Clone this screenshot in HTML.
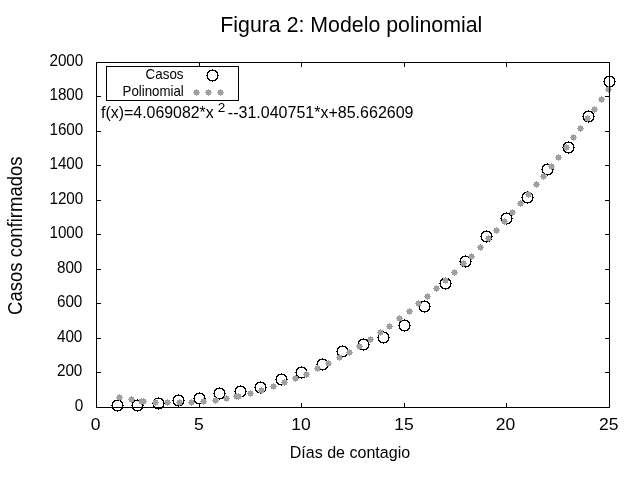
<!DOCTYPE html>
<html><head><meta charset="utf-8"><style>
html,body{margin:0;padding:0;background:#fff;width:640px;height:480px;overflow:hidden}
svg{position:absolute;left:0;top:0}
text{font-family:"Liberation Sans",sans-serif;fill:#000;stroke:none}
svg{will-change:transform}
</style></head><body>
<svg width="640" height="480" viewBox="0 0 640 480">
<rect width="640" height="480" fill="#fff"/>
<text transform="translate(220.29,32.00) scale(0.9923,1)" font-size="21.5">Figura 2: Modelo polinomial</text>
<text transform="translate(74.75,410.80) scale(0.9550,1)" font-size="16">0</text><text transform="translate(56.89,375.80) scale(0.9550,1)" font-size="16">200</text><text transform="translate(56.89,341.80) scale(0.9550,1)" font-size="16">400</text><text transform="translate(56.89,306.80) scale(0.9550,1)" font-size="16">600</text><text transform="translate(56.89,272.80) scale(0.9550,1)" font-size="16">800</text><text transform="translate(49.39,237.80) scale(0.9550,1)" font-size="16">1000</text><text transform="translate(49.39,203.80) scale(0.9550,1)" font-size="16">1200</text><text transform="translate(49.39,168.80) scale(0.9550,1)" font-size="16">1400</text><text transform="translate(49.39,134.80) scale(0.9550,1)" font-size="16">1600</text><text transform="translate(49.39,99.80) scale(0.9550,1)" font-size="16">1800</text><text transform="translate(49.39,65.80) scale(0.9550,1)" font-size="16">2000</text>
<text transform="translate(90.70,429.75) scale(1.0300,1)" font-size="17">0</text><text transform="translate(194.08,429.75) scale(1.0300,1)" font-size="17">5</text><text transform="translate(291.28,429.75) scale(1.0300,1)" font-size="17">10</text><text transform="translate(394.33,429.75) scale(1.0300,1)" font-size="17">15</text><text transform="translate(495.79,429.75) scale(1.0300,1)" font-size="17">20</text><text transform="translate(598.94,429.75) scale(1.0300,1)" font-size="17">25</text>
<text transform="translate(289.72,458.00) scale(0.9731,1)" font-size="16.5">Días de contagio</text>
<text transform="translate(22,314) rotate(-90) scale(0.9268,1)" x="-1.00" font-size="20">Casos confirmados</text>
<text transform="translate(145.58,79.00) scale(0.9571,1)" font-size="14">Casos</text><text transform="translate(122.54,95.80) scale(0.9492,1)" font-size="14">Polinomial</text>
<text transform="translate(101.09,118.00) scale(0.9636,1)" font-size="16.5">f(x)=4.069082*x</text><text transform="translate(217.82,111.75) scale(1.0064,1)" font-size="13.5">2</text><text transform="translate(227.86,118.00) scale(0.9715,1)" font-size="16.5">--31.040751*x+85.662609</text>
<g shape-rendering="crispEdges" fill="#000"><path transform="translate(117,405)" d="M-6 0h1v1h-1zM-5 -3h1v1h-1zM-5 -2h1v1h-1zM-5 -1h1v1h-1zM-5 0h1v1h-1zM-5 1h1v1h-1zM-5 2h1v1h-1zM-5 3h1v1h-1zM-4 -4h1v1h-1zM-4 -3h1v1h-1zM-4 3h1v1h-1zM-4 4h1v1h-1zM-3 -5h1v1h-1zM-3 -4h1v1h-1zM-3 4h1v1h-1zM-3 5h1v1h-1zM-2 -5h1v1h-1zM-2 5h1v1h-1zM-1 -5h1v1h-1zM-1 5h1v1h-1zM0 -6h1v1h-1zM0 -5h1v1h-1zM0 5h1v1h-1zM0 6h1v1h-1zM1 -5h1v1h-1zM1 5h1v1h-1zM2 -5h1v1h-1zM2 5h1v1h-1zM3 -5h1v1h-1zM3 -4h1v1h-1zM3 4h1v1h-1zM3 5h1v1h-1zM4 -4h1v1h-1zM4 -3h1v1h-1zM4 3h1v1h-1zM4 4h1v1h-1zM5 -3h1v1h-1zM5 -2h1v1h-1zM5 -1h1v1h-1zM5 0h1v1h-1zM5 1h1v1h-1zM5 2h1v1h-1zM5 3h1v1h-1zM6 0h1v1h-1z"/><path transform="translate(137,405)" d="M-6 0h1v1h-1zM-5 -3h1v1h-1zM-5 -2h1v1h-1zM-5 -1h1v1h-1zM-5 0h1v1h-1zM-5 1h1v1h-1zM-5 2h1v1h-1zM-5 3h1v1h-1zM-4 -4h1v1h-1zM-4 -3h1v1h-1zM-4 3h1v1h-1zM-4 4h1v1h-1zM-3 -5h1v1h-1zM-3 -4h1v1h-1zM-3 4h1v1h-1zM-3 5h1v1h-1zM-2 -5h1v1h-1zM-2 5h1v1h-1zM-1 -5h1v1h-1zM-1 5h1v1h-1zM0 -6h1v1h-1zM0 -5h1v1h-1zM0 5h1v1h-1zM0 6h1v1h-1zM1 -5h1v1h-1zM1 5h1v1h-1zM2 -5h1v1h-1zM2 5h1v1h-1zM3 -5h1v1h-1zM3 -4h1v1h-1zM3 4h1v1h-1zM3 5h1v1h-1zM4 -4h1v1h-1zM4 -3h1v1h-1zM4 3h1v1h-1zM4 4h1v1h-1zM5 -3h1v1h-1zM5 -2h1v1h-1zM5 -1h1v1h-1zM5 0h1v1h-1zM5 1h1v1h-1zM5 2h1v1h-1zM5 3h1v1h-1zM6 0h1v1h-1z"/><path transform="translate(158,403)" d="M-6 0h1v1h-1zM-5 -3h1v1h-1zM-5 -2h1v1h-1zM-5 -1h1v1h-1zM-5 0h1v1h-1zM-5 1h1v1h-1zM-5 2h1v1h-1zM-5 3h1v1h-1zM-4 -4h1v1h-1zM-4 -3h1v1h-1zM-4 3h1v1h-1zM-4 4h1v1h-1zM-3 -5h1v1h-1zM-3 -4h1v1h-1zM-3 4h1v1h-1zM-3 5h1v1h-1zM-2 -5h1v1h-1zM-2 5h1v1h-1zM-1 -5h1v1h-1zM-1 5h1v1h-1zM0 -6h1v1h-1zM0 -5h1v1h-1zM0 5h1v1h-1zM0 6h1v1h-1zM1 -5h1v1h-1zM1 5h1v1h-1zM2 -5h1v1h-1zM2 5h1v1h-1zM3 -5h1v1h-1zM3 -4h1v1h-1zM3 4h1v1h-1zM3 5h1v1h-1zM4 -4h1v1h-1zM4 -3h1v1h-1zM4 3h1v1h-1zM4 4h1v1h-1zM5 -3h1v1h-1zM5 -2h1v1h-1zM5 -1h1v1h-1zM5 0h1v1h-1zM5 1h1v1h-1zM5 2h1v1h-1zM5 3h1v1h-1zM6 0h1v1h-1z"/><path transform="translate(178,400)" d="M-6 0h1v1h-1zM-5 -3h1v1h-1zM-5 -2h1v1h-1zM-5 -1h1v1h-1zM-5 0h1v1h-1zM-5 1h1v1h-1zM-5 2h1v1h-1zM-5 3h1v1h-1zM-4 -4h1v1h-1zM-4 -3h1v1h-1zM-4 3h1v1h-1zM-4 4h1v1h-1zM-3 -5h1v1h-1zM-3 -4h1v1h-1zM-3 4h1v1h-1zM-3 5h1v1h-1zM-2 -5h1v1h-1zM-2 5h1v1h-1zM-1 -5h1v1h-1zM-1 5h1v1h-1zM0 -6h1v1h-1zM0 -5h1v1h-1zM0 5h1v1h-1zM0 6h1v1h-1zM1 -5h1v1h-1zM1 5h1v1h-1zM2 -5h1v1h-1zM2 5h1v1h-1zM3 -5h1v1h-1zM3 -4h1v1h-1zM3 4h1v1h-1zM3 5h1v1h-1zM4 -4h1v1h-1zM4 -3h1v1h-1zM4 3h1v1h-1zM4 4h1v1h-1zM5 -3h1v1h-1zM5 -2h1v1h-1zM5 -1h1v1h-1zM5 0h1v1h-1zM5 1h1v1h-1zM5 2h1v1h-1zM5 3h1v1h-1zM6 0h1v1h-1z"/><path transform="translate(199,398)" d="M-6 0h1v1h-1zM-5 -3h1v1h-1zM-5 -2h1v1h-1zM-5 -1h1v1h-1zM-5 0h1v1h-1zM-5 1h1v1h-1zM-5 2h1v1h-1zM-5 3h1v1h-1zM-4 -4h1v1h-1zM-4 -3h1v1h-1zM-4 3h1v1h-1zM-4 4h1v1h-1zM-3 -5h1v1h-1zM-3 -4h1v1h-1zM-3 4h1v1h-1zM-3 5h1v1h-1zM-2 -5h1v1h-1zM-2 5h1v1h-1zM-1 -5h1v1h-1zM-1 5h1v1h-1zM0 -6h1v1h-1zM0 -5h1v1h-1zM0 5h1v1h-1zM0 6h1v1h-1zM1 -5h1v1h-1zM1 5h1v1h-1zM2 -5h1v1h-1zM2 5h1v1h-1zM3 -5h1v1h-1zM3 -4h1v1h-1zM3 4h1v1h-1zM3 5h1v1h-1zM4 -4h1v1h-1zM4 -3h1v1h-1zM4 3h1v1h-1zM4 4h1v1h-1zM5 -3h1v1h-1zM5 -2h1v1h-1zM5 -1h1v1h-1zM5 0h1v1h-1zM5 1h1v1h-1zM5 2h1v1h-1zM5 3h1v1h-1zM6 0h1v1h-1z"/><path transform="translate(219,393)" d="M-6 0h1v1h-1zM-5 -3h1v1h-1zM-5 -2h1v1h-1zM-5 -1h1v1h-1zM-5 0h1v1h-1zM-5 1h1v1h-1zM-5 2h1v1h-1zM-5 3h1v1h-1zM-4 -4h1v1h-1zM-4 -3h1v1h-1zM-4 3h1v1h-1zM-4 4h1v1h-1zM-3 -5h1v1h-1zM-3 -4h1v1h-1zM-3 4h1v1h-1zM-3 5h1v1h-1zM-2 -5h1v1h-1zM-2 5h1v1h-1zM-1 -5h1v1h-1zM-1 5h1v1h-1zM0 -6h1v1h-1zM0 -5h1v1h-1zM0 5h1v1h-1zM0 6h1v1h-1zM1 -5h1v1h-1zM1 5h1v1h-1zM2 -5h1v1h-1zM2 5h1v1h-1zM3 -5h1v1h-1zM3 -4h1v1h-1zM3 4h1v1h-1zM3 5h1v1h-1zM4 -4h1v1h-1zM4 -3h1v1h-1zM4 3h1v1h-1zM4 4h1v1h-1zM5 -3h1v1h-1zM5 -2h1v1h-1zM5 -1h1v1h-1zM5 0h1v1h-1zM5 1h1v1h-1zM5 2h1v1h-1zM5 3h1v1h-1zM6 0h1v1h-1z"/><path transform="translate(240,391)" d="M-6 0h1v1h-1zM-5 -3h1v1h-1zM-5 -2h1v1h-1zM-5 -1h1v1h-1zM-5 0h1v1h-1zM-5 1h1v1h-1zM-5 2h1v1h-1zM-5 3h1v1h-1zM-4 -4h1v1h-1zM-4 -3h1v1h-1zM-4 3h1v1h-1zM-4 4h1v1h-1zM-3 -5h1v1h-1zM-3 -4h1v1h-1zM-3 4h1v1h-1zM-3 5h1v1h-1zM-2 -5h1v1h-1zM-2 5h1v1h-1zM-1 -5h1v1h-1zM-1 5h1v1h-1zM0 -6h1v1h-1zM0 -5h1v1h-1zM0 5h1v1h-1zM0 6h1v1h-1zM1 -5h1v1h-1zM1 5h1v1h-1zM2 -5h1v1h-1zM2 5h1v1h-1zM3 -5h1v1h-1zM3 -4h1v1h-1zM3 4h1v1h-1zM3 5h1v1h-1zM4 -4h1v1h-1zM4 -3h1v1h-1zM4 3h1v1h-1zM4 4h1v1h-1zM5 -3h1v1h-1zM5 -2h1v1h-1zM5 -1h1v1h-1zM5 0h1v1h-1zM5 1h1v1h-1zM5 2h1v1h-1zM5 3h1v1h-1zM6 0h1v1h-1z"/><path transform="translate(260,387)" d="M-6 0h1v1h-1zM-5 -3h1v1h-1zM-5 -2h1v1h-1zM-5 -1h1v1h-1zM-5 0h1v1h-1zM-5 1h1v1h-1zM-5 2h1v1h-1zM-5 3h1v1h-1zM-4 -4h1v1h-1zM-4 -3h1v1h-1zM-4 3h1v1h-1zM-4 4h1v1h-1zM-3 -5h1v1h-1zM-3 -4h1v1h-1zM-3 4h1v1h-1zM-3 5h1v1h-1zM-2 -5h1v1h-1zM-2 5h1v1h-1zM-1 -5h1v1h-1zM-1 5h1v1h-1zM0 -6h1v1h-1zM0 -5h1v1h-1zM0 5h1v1h-1zM0 6h1v1h-1zM1 -5h1v1h-1zM1 5h1v1h-1zM2 -5h1v1h-1zM2 5h1v1h-1zM3 -5h1v1h-1zM3 -4h1v1h-1zM3 4h1v1h-1zM3 5h1v1h-1zM4 -4h1v1h-1zM4 -3h1v1h-1zM4 3h1v1h-1zM4 4h1v1h-1zM5 -3h1v1h-1zM5 -2h1v1h-1zM5 -1h1v1h-1zM5 0h1v1h-1zM5 1h1v1h-1zM5 2h1v1h-1zM5 3h1v1h-1zM6 0h1v1h-1z"/><path transform="translate(281,379)" d="M-6 0h1v1h-1zM-5 -3h1v1h-1zM-5 -2h1v1h-1zM-5 -1h1v1h-1zM-5 0h1v1h-1zM-5 1h1v1h-1zM-5 2h1v1h-1zM-5 3h1v1h-1zM-4 -4h1v1h-1zM-4 -3h1v1h-1zM-4 3h1v1h-1zM-4 4h1v1h-1zM-3 -5h1v1h-1zM-3 -4h1v1h-1zM-3 4h1v1h-1zM-3 5h1v1h-1zM-2 -5h1v1h-1zM-2 5h1v1h-1zM-1 -5h1v1h-1zM-1 5h1v1h-1zM0 -6h1v1h-1zM0 -5h1v1h-1zM0 5h1v1h-1zM0 6h1v1h-1zM1 -5h1v1h-1zM1 5h1v1h-1zM2 -5h1v1h-1zM2 5h1v1h-1zM3 -5h1v1h-1zM3 -4h1v1h-1zM3 4h1v1h-1zM3 5h1v1h-1zM4 -4h1v1h-1zM4 -3h1v1h-1zM4 3h1v1h-1zM4 4h1v1h-1zM5 -3h1v1h-1zM5 -2h1v1h-1zM5 -1h1v1h-1zM5 0h1v1h-1zM5 1h1v1h-1zM5 2h1v1h-1zM5 3h1v1h-1zM6 0h1v1h-1z"/><path transform="translate(301,372)" d="M-6 0h1v1h-1zM-5 -3h1v1h-1zM-5 -2h1v1h-1zM-5 -1h1v1h-1zM-5 0h1v1h-1zM-5 1h1v1h-1zM-5 2h1v1h-1zM-5 3h1v1h-1zM-4 -4h1v1h-1zM-4 -3h1v1h-1zM-4 3h1v1h-1zM-4 4h1v1h-1zM-3 -5h1v1h-1zM-3 -4h1v1h-1zM-3 4h1v1h-1zM-3 5h1v1h-1zM-2 -5h1v1h-1zM-2 5h1v1h-1zM-1 -5h1v1h-1zM-1 5h1v1h-1zM0 -6h1v1h-1zM0 -5h1v1h-1zM0 5h1v1h-1zM0 6h1v1h-1zM1 -5h1v1h-1zM1 5h1v1h-1zM2 -5h1v1h-1zM2 5h1v1h-1zM3 -5h1v1h-1zM3 -4h1v1h-1zM3 4h1v1h-1zM3 5h1v1h-1zM4 -4h1v1h-1zM4 -3h1v1h-1zM4 3h1v1h-1zM4 4h1v1h-1zM5 -3h1v1h-1zM5 -2h1v1h-1zM5 -1h1v1h-1zM5 0h1v1h-1zM5 1h1v1h-1zM5 2h1v1h-1zM5 3h1v1h-1zM6 0h1v1h-1z"/><path transform="translate(322,364)" d="M-6 0h1v1h-1zM-5 -3h1v1h-1zM-5 -2h1v1h-1zM-5 -1h1v1h-1zM-5 0h1v1h-1zM-5 1h1v1h-1zM-5 2h1v1h-1zM-5 3h1v1h-1zM-4 -4h1v1h-1zM-4 -3h1v1h-1zM-4 3h1v1h-1zM-4 4h1v1h-1zM-3 -5h1v1h-1zM-3 -4h1v1h-1zM-3 4h1v1h-1zM-3 5h1v1h-1zM-2 -5h1v1h-1zM-2 5h1v1h-1zM-1 -5h1v1h-1zM-1 5h1v1h-1zM0 -6h1v1h-1zM0 -5h1v1h-1zM0 5h1v1h-1zM0 6h1v1h-1zM1 -5h1v1h-1zM1 5h1v1h-1zM2 -5h1v1h-1zM2 5h1v1h-1zM3 -5h1v1h-1zM3 -4h1v1h-1zM3 4h1v1h-1zM3 5h1v1h-1zM4 -4h1v1h-1zM4 -3h1v1h-1zM4 3h1v1h-1zM4 4h1v1h-1zM5 -3h1v1h-1zM5 -2h1v1h-1zM5 -1h1v1h-1zM5 0h1v1h-1zM5 1h1v1h-1zM5 2h1v1h-1zM5 3h1v1h-1zM6 0h1v1h-1z"/><path transform="translate(342,351)" d="M-6 0h1v1h-1zM-5 -3h1v1h-1zM-5 -2h1v1h-1zM-5 -1h1v1h-1zM-5 0h1v1h-1zM-5 1h1v1h-1zM-5 2h1v1h-1zM-5 3h1v1h-1zM-4 -4h1v1h-1zM-4 -3h1v1h-1zM-4 3h1v1h-1zM-4 4h1v1h-1zM-3 -5h1v1h-1zM-3 -4h1v1h-1zM-3 4h1v1h-1zM-3 5h1v1h-1zM-2 -5h1v1h-1zM-2 5h1v1h-1zM-1 -5h1v1h-1zM-1 5h1v1h-1zM0 -6h1v1h-1zM0 -5h1v1h-1zM0 5h1v1h-1zM0 6h1v1h-1zM1 -5h1v1h-1zM1 5h1v1h-1zM2 -5h1v1h-1zM2 5h1v1h-1zM3 -5h1v1h-1zM3 -4h1v1h-1zM3 4h1v1h-1zM3 5h1v1h-1zM4 -4h1v1h-1zM4 -3h1v1h-1zM4 3h1v1h-1zM4 4h1v1h-1zM5 -3h1v1h-1zM5 -2h1v1h-1zM5 -1h1v1h-1zM5 0h1v1h-1zM5 1h1v1h-1zM5 2h1v1h-1zM5 3h1v1h-1zM6 0h1v1h-1z"/><path transform="translate(363,344)" d="M-6 0h1v1h-1zM-5 -3h1v1h-1zM-5 -2h1v1h-1zM-5 -1h1v1h-1zM-5 0h1v1h-1zM-5 1h1v1h-1zM-5 2h1v1h-1zM-5 3h1v1h-1zM-4 -4h1v1h-1zM-4 -3h1v1h-1zM-4 3h1v1h-1zM-4 4h1v1h-1zM-3 -5h1v1h-1zM-3 -4h1v1h-1zM-3 4h1v1h-1zM-3 5h1v1h-1zM-2 -5h1v1h-1zM-2 5h1v1h-1zM-1 -5h1v1h-1zM-1 5h1v1h-1zM0 -6h1v1h-1zM0 -5h1v1h-1zM0 5h1v1h-1zM0 6h1v1h-1zM1 -5h1v1h-1zM1 5h1v1h-1zM2 -5h1v1h-1zM2 5h1v1h-1zM3 -5h1v1h-1zM3 -4h1v1h-1zM3 4h1v1h-1zM3 5h1v1h-1zM4 -4h1v1h-1zM4 -3h1v1h-1zM4 3h1v1h-1zM4 4h1v1h-1zM5 -3h1v1h-1zM5 -2h1v1h-1zM5 -1h1v1h-1zM5 0h1v1h-1zM5 1h1v1h-1zM5 2h1v1h-1zM5 3h1v1h-1zM6 0h1v1h-1z"/><path transform="translate(383,337)" d="M-6 0h1v1h-1zM-5 -3h1v1h-1zM-5 -2h1v1h-1zM-5 -1h1v1h-1zM-5 0h1v1h-1zM-5 1h1v1h-1zM-5 2h1v1h-1zM-5 3h1v1h-1zM-4 -4h1v1h-1zM-4 -3h1v1h-1zM-4 3h1v1h-1zM-4 4h1v1h-1zM-3 -5h1v1h-1zM-3 -4h1v1h-1zM-3 4h1v1h-1zM-3 5h1v1h-1zM-2 -5h1v1h-1zM-2 5h1v1h-1zM-1 -5h1v1h-1zM-1 5h1v1h-1zM0 -6h1v1h-1zM0 -5h1v1h-1zM0 5h1v1h-1zM0 6h1v1h-1zM1 -5h1v1h-1zM1 5h1v1h-1zM2 -5h1v1h-1zM2 5h1v1h-1zM3 -5h1v1h-1zM3 -4h1v1h-1zM3 4h1v1h-1zM3 5h1v1h-1zM4 -4h1v1h-1zM4 -3h1v1h-1zM4 3h1v1h-1zM4 4h1v1h-1zM5 -3h1v1h-1zM5 -2h1v1h-1zM5 -1h1v1h-1zM5 0h1v1h-1zM5 1h1v1h-1zM5 2h1v1h-1zM5 3h1v1h-1zM6 0h1v1h-1z"/><path transform="translate(404,325)" d="M-6 0h1v1h-1zM-5 -3h1v1h-1zM-5 -2h1v1h-1zM-5 -1h1v1h-1zM-5 0h1v1h-1zM-5 1h1v1h-1zM-5 2h1v1h-1zM-5 3h1v1h-1zM-4 -4h1v1h-1zM-4 -3h1v1h-1zM-4 3h1v1h-1zM-4 4h1v1h-1zM-3 -5h1v1h-1zM-3 -4h1v1h-1zM-3 4h1v1h-1zM-3 5h1v1h-1zM-2 -5h1v1h-1zM-2 5h1v1h-1zM-1 -5h1v1h-1zM-1 5h1v1h-1zM0 -6h1v1h-1zM0 -5h1v1h-1zM0 5h1v1h-1zM0 6h1v1h-1zM1 -5h1v1h-1zM1 5h1v1h-1zM2 -5h1v1h-1zM2 5h1v1h-1zM3 -5h1v1h-1zM3 -4h1v1h-1zM3 4h1v1h-1zM3 5h1v1h-1zM4 -4h1v1h-1zM4 -3h1v1h-1zM4 3h1v1h-1zM4 4h1v1h-1zM5 -3h1v1h-1zM5 -2h1v1h-1zM5 -1h1v1h-1zM5 0h1v1h-1zM5 1h1v1h-1zM5 2h1v1h-1zM5 3h1v1h-1zM6 0h1v1h-1z"/><path transform="translate(424,306)" d="M-6 0h1v1h-1zM-5 -3h1v1h-1zM-5 -2h1v1h-1zM-5 -1h1v1h-1zM-5 0h1v1h-1zM-5 1h1v1h-1zM-5 2h1v1h-1zM-5 3h1v1h-1zM-4 -4h1v1h-1zM-4 -3h1v1h-1zM-4 3h1v1h-1zM-4 4h1v1h-1zM-3 -5h1v1h-1zM-3 -4h1v1h-1zM-3 4h1v1h-1zM-3 5h1v1h-1zM-2 -5h1v1h-1zM-2 5h1v1h-1zM-1 -5h1v1h-1zM-1 5h1v1h-1zM0 -6h1v1h-1zM0 -5h1v1h-1zM0 5h1v1h-1zM0 6h1v1h-1zM1 -5h1v1h-1zM1 5h1v1h-1zM2 -5h1v1h-1zM2 5h1v1h-1zM3 -5h1v1h-1zM3 -4h1v1h-1zM3 4h1v1h-1zM3 5h1v1h-1zM4 -4h1v1h-1zM4 -3h1v1h-1zM4 3h1v1h-1zM4 4h1v1h-1zM5 -3h1v1h-1zM5 -2h1v1h-1zM5 -1h1v1h-1zM5 0h1v1h-1zM5 1h1v1h-1zM5 2h1v1h-1zM5 3h1v1h-1zM6 0h1v1h-1z"/><path transform="translate(445,283)" d="M-6 0h1v1h-1zM-5 -3h1v1h-1zM-5 -2h1v1h-1zM-5 -1h1v1h-1zM-5 0h1v1h-1zM-5 1h1v1h-1zM-5 2h1v1h-1zM-5 3h1v1h-1zM-4 -4h1v1h-1zM-4 -3h1v1h-1zM-4 3h1v1h-1zM-4 4h1v1h-1zM-3 -5h1v1h-1zM-3 -4h1v1h-1zM-3 4h1v1h-1zM-3 5h1v1h-1zM-2 -5h1v1h-1zM-2 5h1v1h-1zM-1 -5h1v1h-1zM-1 5h1v1h-1zM0 -6h1v1h-1zM0 -5h1v1h-1zM0 5h1v1h-1zM0 6h1v1h-1zM1 -5h1v1h-1zM1 5h1v1h-1zM2 -5h1v1h-1zM2 5h1v1h-1zM3 -5h1v1h-1zM3 -4h1v1h-1zM3 4h1v1h-1zM3 5h1v1h-1zM4 -4h1v1h-1zM4 -3h1v1h-1zM4 3h1v1h-1zM4 4h1v1h-1zM5 -3h1v1h-1zM5 -2h1v1h-1zM5 -1h1v1h-1zM5 0h1v1h-1zM5 1h1v1h-1zM5 2h1v1h-1zM5 3h1v1h-1zM6 0h1v1h-1z"/><path transform="translate(465,261)" d="M-6 0h1v1h-1zM-5 -3h1v1h-1zM-5 -2h1v1h-1zM-5 -1h1v1h-1zM-5 0h1v1h-1zM-5 1h1v1h-1zM-5 2h1v1h-1zM-5 3h1v1h-1zM-4 -4h1v1h-1zM-4 -3h1v1h-1zM-4 3h1v1h-1zM-4 4h1v1h-1zM-3 -5h1v1h-1zM-3 -4h1v1h-1zM-3 4h1v1h-1zM-3 5h1v1h-1zM-2 -5h1v1h-1zM-2 5h1v1h-1zM-1 -5h1v1h-1zM-1 5h1v1h-1zM0 -6h1v1h-1zM0 -5h1v1h-1zM0 5h1v1h-1zM0 6h1v1h-1zM1 -5h1v1h-1zM1 5h1v1h-1zM2 -5h1v1h-1zM2 5h1v1h-1zM3 -5h1v1h-1zM3 -4h1v1h-1zM3 4h1v1h-1zM3 5h1v1h-1zM4 -4h1v1h-1zM4 -3h1v1h-1zM4 3h1v1h-1zM4 4h1v1h-1zM5 -3h1v1h-1zM5 -2h1v1h-1zM5 -1h1v1h-1zM5 0h1v1h-1zM5 1h1v1h-1zM5 2h1v1h-1zM5 3h1v1h-1zM6 0h1v1h-1z"/><path transform="translate(486,236)" d="M-6 0h1v1h-1zM-5 -3h1v1h-1zM-5 -2h1v1h-1zM-5 -1h1v1h-1zM-5 0h1v1h-1zM-5 1h1v1h-1zM-5 2h1v1h-1zM-5 3h1v1h-1zM-4 -4h1v1h-1zM-4 -3h1v1h-1zM-4 3h1v1h-1zM-4 4h1v1h-1zM-3 -5h1v1h-1zM-3 -4h1v1h-1zM-3 4h1v1h-1zM-3 5h1v1h-1zM-2 -5h1v1h-1zM-2 5h1v1h-1zM-1 -5h1v1h-1zM-1 5h1v1h-1zM0 -6h1v1h-1zM0 -5h1v1h-1zM0 5h1v1h-1zM0 6h1v1h-1zM1 -5h1v1h-1zM1 5h1v1h-1zM2 -5h1v1h-1zM2 5h1v1h-1zM3 -5h1v1h-1zM3 -4h1v1h-1zM3 4h1v1h-1zM3 5h1v1h-1zM4 -4h1v1h-1zM4 -3h1v1h-1zM4 3h1v1h-1zM4 4h1v1h-1zM5 -3h1v1h-1zM5 -2h1v1h-1zM5 -1h1v1h-1zM5 0h1v1h-1zM5 1h1v1h-1zM5 2h1v1h-1zM5 3h1v1h-1zM6 0h1v1h-1z"/><path transform="translate(506,218)" d="M-6 0h1v1h-1zM-5 -3h1v1h-1zM-5 -2h1v1h-1zM-5 -1h1v1h-1zM-5 0h1v1h-1zM-5 1h1v1h-1zM-5 2h1v1h-1zM-5 3h1v1h-1zM-4 -4h1v1h-1zM-4 -3h1v1h-1zM-4 3h1v1h-1zM-4 4h1v1h-1zM-3 -5h1v1h-1zM-3 -4h1v1h-1zM-3 4h1v1h-1zM-3 5h1v1h-1zM-2 -5h1v1h-1zM-2 5h1v1h-1zM-1 -5h1v1h-1zM-1 5h1v1h-1zM0 -6h1v1h-1zM0 -5h1v1h-1zM0 5h1v1h-1zM0 6h1v1h-1zM1 -5h1v1h-1zM1 5h1v1h-1zM2 -5h1v1h-1zM2 5h1v1h-1zM3 -5h1v1h-1zM3 -4h1v1h-1zM3 4h1v1h-1zM3 5h1v1h-1zM4 -4h1v1h-1zM4 -3h1v1h-1zM4 3h1v1h-1zM4 4h1v1h-1zM5 -3h1v1h-1zM5 -2h1v1h-1zM5 -1h1v1h-1zM5 0h1v1h-1zM5 1h1v1h-1zM5 2h1v1h-1zM5 3h1v1h-1zM6 0h1v1h-1z"/><path transform="translate(527,197)" d="M-6 0h1v1h-1zM-5 -3h1v1h-1zM-5 -2h1v1h-1zM-5 -1h1v1h-1zM-5 0h1v1h-1zM-5 1h1v1h-1zM-5 2h1v1h-1zM-5 3h1v1h-1zM-4 -4h1v1h-1zM-4 -3h1v1h-1zM-4 3h1v1h-1zM-4 4h1v1h-1zM-3 -5h1v1h-1zM-3 -4h1v1h-1zM-3 4h1v1h-1zM-3 5h1v1h-1zM-2 -5h1v1h-1zM-2 5h1v1h-1zM-1 -5h1v1h-1zM-1 5h1v1h-1zM0 -6h1v1h-1zM0 -5h1v1h-1zM0 5h1v1h-1zM0 6h1v1h-1zM1 -5h1v1h-1zM1 5h1v1h-1zM2 -5h1v1h-1zM2 5h1v1h-1zM3 -5h1v1h-1zM3 -4h1v1h-1zM3 4h1v1h-1zM3 5h1v1h-1zM4 -4h1v1h-1zM4 -3h1v1h-1zM4 3h1v1h-1zM4 4h1v1h-1zM5 -3h1v1h-1zM5 -2h1v1h-1zM5 -1h1v1h-1zM5 0h1v1h-1zM5 1h1v1h-1zM5 2h1v1h-1zM5 3h1v1h-1zM6 0h1v1h-1z"/><path transform="translate(547,169)" d="M-6 0h1v1h-1zM-5 -3h1v1h-1zM-5 -2h1v1h-1zM-5 -1h1v1h-1zM-5 0h1v1h-1zM-5 1h1v1h-1zM-5 2h1v1h-1zM-5 3h1v1h-1zM-4 -4h1v1h-1zM-4 -3h1v1h-1zM-4 3h1v1h-1zM-4 4h1v1h-1zM-3 -5h1v1h-1zM-3 -4h1v1h-1zM-3 4h1v1h-1zM-3 5h1v1h-1zM-2 -5h1v1h-1zM-2 5h1v1h-1zM-1 -5h1v1h-1zM-1 5h1v1h-1zM0 -6h1v1h-1zM0 -5h1v1h-1zM0 5h1v1h-1zM0 6h1v1h-1zM1 -5h1v1h-1zM1 5h1v1h-1zM2 -5h1v1h-1zM2 5h1v1h-1zM3 -5h1v1h-1zM3 -4h1v1h-1zM3 4h1v1h-1zM3 5h1v1h-1zM4 -4h1v1h-1zM4 -3h1v1h-1zM4 3h1v1h-1zM4 4h1v1h-1zM5 -3h1v1h-1zM5 -2h1v1h-1zM5 -1h1v1h-1zM5 0h1v1h-1zM5 1h1v1h-1zM5 2h1v1h-1zM5 3h1v1h-1zM6 0h1v1h-1z"/><path transform="translate(568,147)" d="M-6 0h1v1h-1zM-5 -3h1v1h-1zM-5 -2h1v1h-1zM-5 -1h1v1h-1zM-5 0h1v1h-1zM-5 1h1v1h-1zM-5 2h1v1h-1zM-5 3h1v1h-1zM-4 -4h1v1h-1zM-4 -3h1v1h-1zM-4 3h1v1h-1zM-4 4h1v1h-1zM-3 -5h1v1h-1zM-3 -4h1v1h-1zM-3 4h1v1h-1zM-3 5h1v1h-1zM-2 -5h1v1h-1zM-2 5h1v1h-1zM-1 -5h1v1h-1zM-1 5h1v1h-1zM0 -6h1v1h-1zM0 -5h1v1h-1zM0 5h1v1h-1zM0 6h1v1h-1zM1 -5h1v1h-1zM1 5h1v1h-1zM2 -5h1v1h-1zM2 5h1v1h-1zM3 -5h1v1h-1zM3 -4h1v1h-1zM3 4h1v1h-1zM3 5h1v1h-1zM4 -4h1v1h-1zM4 -3h1v1h-1zM4 3h1v1h-1zM4 4h1v1h-1zM5 -3h1v1h-1zM5 -2h1v1h-1zM5 -1h1v1h-1zM5 0h1v1h-1zM5 1h1v1h-1zM5 2h1v1h-1zM5 3h1v1h-1zM6 0h1v1h-1z"/><path transform="translate(588,116)" d="M-6 0h1v1h-1zM-5 -3h1v1h-1zM-5 -2h1v1h-1zM-5 -1h1v1h-1zM-5 0h1v1h-1zM-5 1h1v1h-1zM-5 2h1v1h-1zM-5 3h1v1h-1zM-4 -4h1v1h-1zM-4 -3h1v1h-1zM-4 3h1v1h-1zM-4 4h1v1h-1zM-3 -5h1v1h-1zM-3 -4h1v1h-1zM-3 4h1v1h-1zM-3 5h1v1h-1zM-2 -5h1v1h-1zM-2 5h1v1h-1zM-1 -5h1v1h-1zM-1 5h1v1h-1zM0 -6h1v1h-1zM0 -5h1v1h-1zM0 5h1v1h-1zM0 6h1v1h-1zM1 -5h1v1h-1zM1 5h1v1h-1zM2 -5h1v1h-1zM2 5h1v1h-1zM3 -5h1v1h-1zM3 -4h1v1h-1zM3 4h1v1h-1zM3 5h1v1h-1zM4 -4h1v1h-1zM4 -3h1v1h-1zM4 3h1v1h-1zM4 4h1v1h-1zM5 -3h1v1h-1zM5 -2h1v1h-1zM5 -1h1v1h-1zM5 0h1v1h-1zM5 1h1v1h-1zM5 2h1v1h-1zM5 3h1v1h-1zM6 0h1v1h-1z"/><path transform="translate(609,81)" d="M-6 0h1v1h-1zM-5 -3h1v1h-1zM-5 -2h1v1h-1zM-5 -1h1v1h-1zM-5 0h1v1h-1zM-5 1h1v1h-1zM-5 2h1v1h-1zM-5 3h1v1h-1zM-4 -4h1v1h-1zM-4 -3h1v1h-1zM-4 3h1v1h-1zM-4 4h1v1h-1zM-3 -5h1v1h-1zM-3 -4h1v1h-1zM-3 4h1v1h-1zM-3 5h1v1h-1zM-2 -5h1v1h-1zM-2 5h1v1h-1zM-1 -5h1v1h-1zM-1 5h1v1h-1zM0 -6h1v1h-1zM0 -5h1v1h-1zM0 5h1v1h-1zM0 6h1v1h-1zM1 -5h1v1h-1zM1 5h1v1h-1zM2 -5h1v1h-1zM2 5h1v1h-1zM3 -5h1v1h-1zM3 -4h1v1h-1zM3 4h1v1h-1zM3 5h1v1h-1zM4 -4h1v1h-1zM4 -3h1v1h-1zM4 3h1v1h-1zM4 4h1v1h-1zM5 -3h1v1h-1zM5 -2h1v1h-1zM5 -1h1v1h-1zM5 0h1v1h-1zM5 1h1v1h-1zM5 2h1v1h-1zM5 3h1v1h-1zM6 0h1v1h-1z"/><path transform="translate(212,75)" d="M-6 0h1v1h-1zM-5 -3h1v1h-1zM-5 -2h1v1h-1zM-5 -1h1v1h-1zM-5 0h1v1h-1zM-5 1h1v1h-1zM-5 2h1v1h-1zM-5 3h1v1h-1zM-4 -4h1v1h-1zM-4 -3h1v1h-1zM-4 3h1v1h-1zM-4 4h1v1h-1zM-3 -5h1v1h-1zM-3 -4h1v1h-1zM-3 4h1v1h-1zM-3 5h1v1h-1zM-2 -5h1v1h-1zM-2 5h1v1h-1zM-1 -5h1v1h-1zM-1 5h1v1h-1zM0 -6h1v1h-1zM0 -5h1v1h-1zM0 5h1v1h-1zM0 6h1v1h-1zM1 -5h1v1h-1zM1 5h1v1h-1zM2 -5h1v1h-1zM2 5h1v1h-1zM3 -5h1v1h-1zM3 -4h1v1h-1zM3 4h1v1h-1zM3 5h1v1h-1zM4 -4h1v1h-1zM4 -3h1v1h-1zM4 3h1v1h-1zM4 4h1v1h-1zM5 -3h1v1h-1zM5 -2h1v1h-1zM5 -1h1v1h-1zM5 0h1v1h-1zM5 1h1v1h-1zM5 2h1v1h-1zM5 3h1v1h-1zM6 0h1v1h-1z"/></g>
<g shape-rendering="crispEdges" fill="#a0a0a0"><path transform="translate(119,397)" d="M-2 -2h5v5h-5z M0 -3h1v7h-1z M-3 0h7v1h-7z"/><path transform="translate(131,399)" d="M-2 -2h5v5h-5z M0 -3h1v7h-1z M-3 0h7v1h-7z"/><path transform="translate(143,401)" d="M-2 -2h5v5h-5z M0 -3h1v7h-1z M-3 0h7v1h-7z"/><path transform="translate(155,402)" d="M-2 -2h5v5h-5z M0 -3h1v7h-1z M-3 0h7v1h-7z"/><path transform="translate(167,402)" d="M-2 -2h5v5h-5z M0 -3h1v7h-1z M-3 0h7v1h-7z"/><path transform="translate(179,402)" d="M-2 -2h5v5h-5z M0 -3h1v7h-1z M-3 0h7v1h-7z"/><path transform="translate(191,402)" d="M-2 -2h5v5h-5z M0 -3h1v7h-1z M-3 0h7v1h-7z"/><path transform="translate(203,401)" d="M-2 -2h5v5h-5z M0 -3h1v7h-1z M-3 0h7v1h-7z"/><path transform="translate(215,400)" d="M-2 -2h5v5h-5z M0 -3h1v7h-1z M-3 0h7v1h-7z"/><path transform="translate(226,398)" d="M-2 -2h5v5h-5z M0 -3h1v7h-1z M-3 0h7v1h-7z"/><path transform="translate(238,396)" d="M-2 -2h5v5h-5z M0 -3h1v7h-1z M-3 0h7v1h-7z"/><path transform="translate(250,393)" d="M-2 -2h5v5h-5z M0 -3h1v7h-1z M-3 0h7v1h-7z"/><path transform="translate(261,390)" d="M-2 -2h5v5h-5z M0 -3h1v7h-1z M-3 0h7v1h-7z"/><path transform="translate(273,386)" d="M-2 -2h5v5h-5z M0 -3h1v7h-1z M-3 0h7v1h-7z"/><path transform="translate(284,382)" d="M-2 -2h5v5h-5z M0 -3h1v7h-1z M-3 0h7v1h-7z"/><path transform="translate(295,378)" d="M-2 -2h5v5h-5z M0 -3h1v7h-1z M-3 0h7v1h-7z"/><path transform="translate(306,374)" d="M-2 -2h5v5h-5z M0 -3h1v7h-1z M-3 0h7v1h-7z"/><path transform="translate(317,368)" d="M-2 -2h5v5h-5z M0 -3h1v7h-1z M-3 0h7v1h-7z"/><path transform="translate(328,363)" d="M-2 -2h5v5h-5z M0 -3h1v7h-1z M-3 0h7v1h-7z"/><path transform="translate(339,357)" d="M-2 -2h5v5h-5z M0 -3h1v7h-1z M-3 0h7v1h-7z"/><path transform="translate(349,352)" d="M-2 -2h5v5h-5z M0 -3h1v7h-1z M-3 0h7v1h-7z"/><path transform="translate(359,346)" d="M-2 -2h5v5h-5z M0 -3h1v7h-1z M-3 0h7v1h-7z"/><path transform="translate(370,339)" d="M-2 -2h5v5h-5z M0 -3h1v7h-1z M-3 0h7v1h-7z"/><path transform="translate(380,332)" d="M-2 -2h5v5h-5z M0 -3h1v7h-1z M-3 0h7v1h-7z"/><path transform="translate(389,326)" d="M-2 -2h5v5h-5z M0 -3h1v7h-1z M-3 0h7v1h-7z"/><path transform="translate(399,318)" d="M-2 -2h5v5h-5z M0 -3h1v7h-1z M-3 0h7v1h-7z"/><path transform="translate(409,311)" d="M-2 -2h5v5h-5z M0 -3h1v7h-1z M-3 0h7v1h-7z"/><path transform="translate(418,303)" d="M-2 -2h5v5h-5z M0 -3h1v7h-1z M-3 0h7v1h-7z"/><path transform="translate(427,296)" d="M-2 -2h5v5h-5z M0 -3h1v7h-1z M-3 0h7v1h-7z"/><path transform="translate(436,288)" d="M-2 -2h5v5h-5z M0 -3h1v7h-1z M-3 0h7v1h-7z"/><path transform="translate(445,280)" d="M-2 -2h5v5h-5z M0 -3h1v7h-1z M-3 0h7v1h-7z"/><path transform="translate(454,272)" d="M-2 -2h5v5h-5z M0 -3h1v7h-1z M-3 0h7v1h-7z"/><path transform="translate(463,263)" d="M-2 -2h5v5h-5z M0 -3h1v7h-1z M-3 0h7v1h-7z"/><path transform="translate(471,256)" d="M-2 -2h5v5h-5z M0 -3h1v7h-1z M-3 0h7v1h-7z"/><path transform="translate(480,247)" d="M-2 -2h5v5h-5z M0 -3h1v7h-1z M-3 0h7v1h-7z"/><path transform="translate(488,238)" d="M-2 -2h5v5h-5z M0 -3h1v7h-1z M-3 0h7v1h-7z"/><path transform="translate(496,230)" d="M-2 -2h5v5h-5z M0 -3h1v7h-1z M-3 0h7v1h-7z"/><path transform="translate(504,221)" d="M-2 -2h5v5h-5z M0 -3h1v7h-1z M-3 0h7v1h-7z"/><path transform="translate(512,212)" d="M-2 -2h5v5h-5z M0 -3h1v7h-1z M-3 0h7v1h-7z"/><path transform="translate(520,203)" d="M-2 -2h5v5h-5z M0 -3h1v7h-1z M-3 0h7v1h-7z"/><path transform="translate(528,194)" d="M-2 -2h5v5h-5z M0 -3h1v7h-1z M-3 0h7v1h-7z"/><path transform="translate(536,184)" d="M-2 -2h5v5h-5z M0 -3h1v7h-1z M-3 0h7v1h-7z"/><path transform="translate(543,176)" d="M-2 -2h5v5h-5z M0 -3h1v7h-1z M-3 0h7v1h-7z"/><path transform="translate(551,166)" d="M-2 -2h5v5h-5z M0 -3h1v7h-1z M-3 0h7v1h-7z"/><path transform="translate(558,157)" d="M-2 -2h5v5h-5z M0 -3h1v7h-1z M-3 0h7v1h-7z"/><path transform="translate(566,147)" d="M-2 -2h5v5h-5z M0 -3h1v7h-1z M-3 0h7v1h-7z"/><path transform="translate(573,137)" d="M-2 -2h5v5h-5z M0 -3h1v7h-1z M-3 0h7v1h-7z"/><path transform="translate(580,128)" d="M-2 -2h5v5h-5z M0 -3h1v7h-1z M-3 0h7v1h-7z"/><path transform="translate(587,118)" d="M-2 -2h5v5h-5z M0 -3h1v7h-1z M-3 0h7v1h-7z"/><path transform="translate(594,109)" d="M-2 -2h5v5h-5z M0 -3h1v7h-1z M-3 0h7v1h-7z"/><path transform="translate(601,99)" d="M-2 -2h5v5h-5z M0 -3h1v7h-1z M-3 0h7v1h-7z"/><path transform="translate(608,89)" d="M-2 -2h5v5h-5z M0 -3h1v7h-1z M-3 0h7v1h-7z"/><path transform="translate(141,401)" d="M-2 -2h5v5h-5z M0 -3h1v7h-1z M-3 0h7v1h-7z"/><path transform="translate(236,396)" d="M-2 -2h5v5h-5z M0 -3h1v7h-1z M-3 0h7v1h-7z"/><path transform="translate(196,92)" d="M-2 -2h5v5h-5z M0 -3h1v7h-1z M-3 0h7v1h-7z"/><path transform="translate(208,92)" d="M-2 -2h5v5h-5z M0 -3h1v7h-1z M-3 0h7v1h-7z"/><path transform="translate(220,92)" d="M-2 -2h5v5h-5z M0 -3h1v7h-1z M-3 0h7v1h-7z"/></g>
<g stroke="#000" stroke-width="1" fill="none" shape-rendering="crispEdges">
<rect x="96.5" y="62.5" width="513" height="345"/>
<path d="M96.5 407 V402.5 M96.5 62 V66.5"/><path d="M199.5 407 V402.5 M199.5 62 V66.5"/><path d="M301.5 407 V402.5 M301.5 62 V66.5"/><path d="M404.5 407 V402.5 M404.5 62 V66.5"/><path d="M506.5 407 V402.5 M506.5 62 V66.5"/><path d="M609.5 407 V402.5 M609.5 62 V66.5"/><path d="M96 407.5 H101 M610 407.5 H605"/><path d="M96 372.5 H101 M610 372.5 H605"/><path d="M96 338.5 H101 M610 338.5 H605"/><path d="M96 303.5 H101 M610 303.5 H605"/><path d="M96 269.5 H101 M610 269.5 H605"/><path d="M96 234.5 H101 M610 234.5 H605"/><path d="M96 200.5 H101 M610 200.5 H605"/><path d="M96 165.5 H101 M610 165.5 H605"/><path d="M96 131.5 H101 M610 131.5 H605"/><path d="M96 96.5 H101 M610 96.5 H605"/><path d="M96 62.5 H101 M610 62.5 H605"/>
<rect x="106.5" y="66.5" width="132" height="34"/>
</g>
</svg>
</body></html>
